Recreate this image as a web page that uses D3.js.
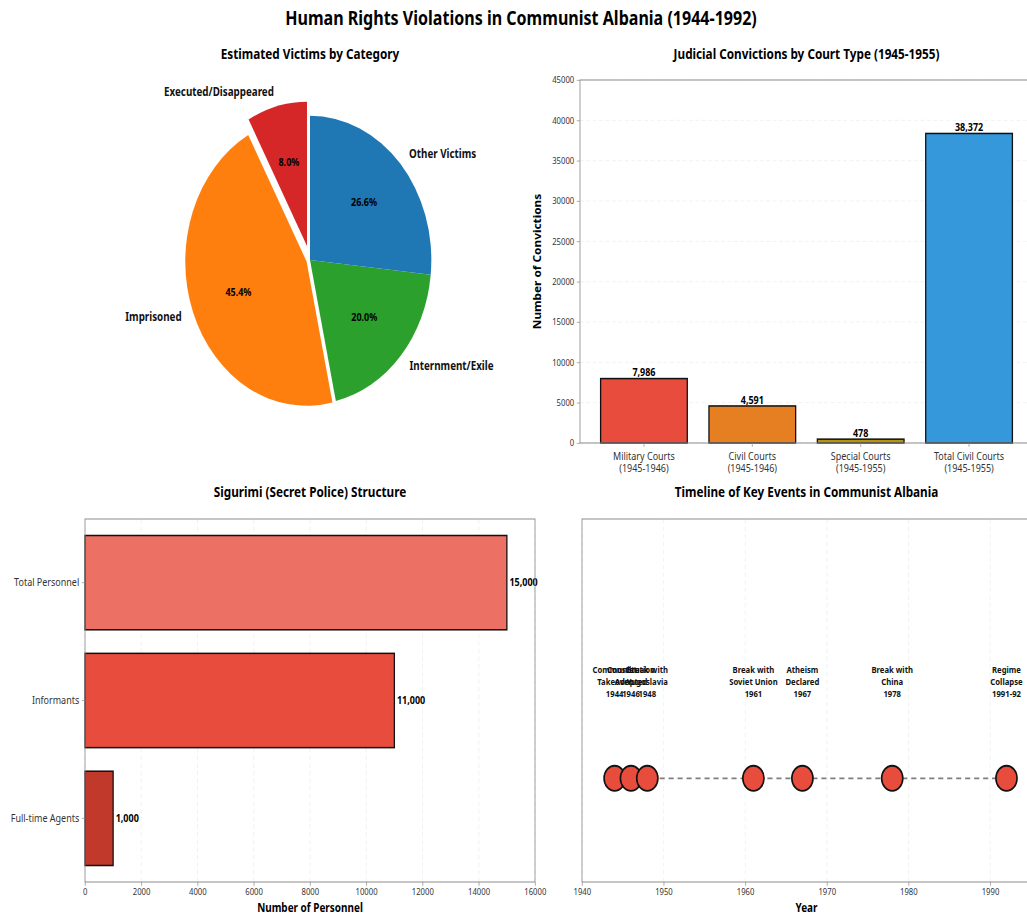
<!DOCTYPE html>
<html>
<head>
<meta charset="utf-8">
<script src="https://cdn.jsdelivr.net/npm/d3@7"></script>
<style>
  html, body { margin: 0; padding: 0; background: #ffffff; }
  svg { display: block; }
  text { font-family: "Noto Sans", "Open Sans", "DejaVu Sans", sans-serif; }
</style>
</head>
<body>
<div id="chart"></div>
<script>
// ---------------- DATA ----------------
const mainTitle = "Human Rights Violations in Communist Albania (1944-1992)";

const pieTitle = "Estimated Victims by Category";
const pieLabels = ["Executed/Disappeared", "Imprisoned", "Internment/Exile", "Other Victims"];
const pieValues = [6000, 34135, 15000, 20000];
const pieColors = ["#d62728", "#ff7f0e", "#2ca02c", "#1f77b4"];
const pieExplode = [0.1, 0.03, 0, 0];

const courtTitle = "Judicial Convictions by Court Type (1945-1955)";
const courtCategories = ["Military Courts\n(1945-1946)", "Civil Courts\n(1945-1946)", "Special Courts\n(1945-1955)", "Total Civil Courts\n(1945-1955)"];
const courtValues = [7986, 4591, 478, 38372];
const courtColors = ["#e74c3c", "#e67e22", "#b7950b", "#3498db"];
const courtTicks = [0, 5000, 10000, 15000, 20000, 25000, 30000, 35000, 40000, 45000];

const policeTitle = "Sigurimi (Secret Police) Structure";
const policeCategories = ["Total Personnel", "Informants", "Full-time Agents"];
const policeValues = [15000, 11000, 1000];
const policeColors = ["#ec7063", "#e74c3c", "#c0392b"];
const policeTicks = [0, 2000, 4000, 6000, 8000, 10000, 12000, 14000, 16000];

const timelineTitle = "Timeline of Key Events in Communist Albania";
const eventYears = [1944, 1946, 1948, 1961, 1967, 1978, 1992];
const eventNames = ["Communist\nTakeover", "Constitution\nAdopted", "Break with\nYugoslavia", "Break with\nSoviet Union", "Atheism\nDeclared", "Break with\nChina", "Regime\nCollapse"];
const eventYearLabels = ["1944", "1946", "1948", "1961", "1967", "1978", "1991-92"];
const timelineTicks = [1940, 1950, 1960, 1970, 1980, 1990];

// ---------------- LAYOUT (figure drawn in its own units, then stretched like the original image) ----------------
const PW = 1027, PH = 916;
const SX = 0.6419, SY = 0.7633;
const W = PW / SX, H = PH / SY;
const X = px => px / SX;   // page px -> figure units
const Y = py => py / SY;

const spineColor = "#8c8c8c";
const tickColor = "#333333";
const gridColor = "#ececec";
const titleSize = 18.3;
const smallTick = 12;
const catTick = 14;

const svg = d3.select("#chart").append("svg")
  .attr("width", PW).attr("height", PH)
  .attr("viewBox", `0 0 ${W} ${H}`)
  .attr("preserveAspectRatio", "none");

svg.append("rect").attr("width", W).attr("height", H).attr("fill", "#fff");

svg.append("text").attr("x", X(521)).attr("y", Y(25))
  .attr("text-anchor", "middle").attr("font-size", 25).attr("font-weight", "bold")
  .text(mainTitle);

function multiline(sel, str, lineH) {
  const lines = str.split("\n");
  lines.forEach((l, i) => sel.append("tspan").attr("x", sel.attr("x")).attr("dy", i === 0 ? 0 : lineH).text(l));
}

function frame(g, x0, x1, y0, y1) {
  g.append("rect").attr("x", x0).attr("y", y0).attr("width", x1 - x0).attr("height", y1 - y0)
    .attr("fill", "none").attr("stroke", spineColor).attr("stroke-width", 1.3);
}

// ---------------- PIE ----------------
{
  const cx = X(310), cy = Y(260), r = 189;
  const g = svg.append("g").attr("transform", `translate(${cx},${cy})`);
  svg.append("text").attr("x", cx).attr("y", Y(59)).attr("text-anchor", "middle")
    .attr("font-size", titleSize).attr("font-weight", "bold").text(pieTitle);
  const total = d3.sum(pieValues);
  const pie = d3.pie().sort(null).startAngle(0).endAngle(-2 * Math.PI);
  const arcs = pie(pieValues);
  const arc = d3.arc().innerRadius(0).outerRadius(r);
  arcs.forEach((a, i) => {
    const mid = (a.startAngle + a.endAngle) / 2;
    const ux = Math.sin(mid), uy = -Math.cos(mid);
    const ex = pieExplode[i] * r;
    g.append("path").attr("d", arc(a)).attr("fill", pieColors[i])
      .attr("transform", `translate(${ux * ex},${uy * ex})`);
    const lr = 1.1 * r + ex;
    g.append("text").attr("x", ux * lr).attr("y", uy * lr).attr("dy", "0.35em")
      .attr("text-anchor", ux >= 0 ? "start" : "end")
      .attr("font-size", 15.3).attr("font-weight", "bold").attr("fill", "#111")
      .text(pieLabels[i]);
    const pr = 0.6 * r + ex;
    g.append("text").attr("x", ux * pr).attr("y", uy * pr).attr("dy", "0.35em")
      .attr("text-anchor", "middle").attr("font-size", 14).attr("font-weight", "bold").attr("fill", "#000")
      .text((pieValues[i] / total * 100).toFixed(1) + "%");
  });
}

// ---------------- COURT BARS ----------------
{
  const x0 = X(580), x1 = X(1033), y0 = Y(80), y1 = Y(443);
  const g = svg.append("g");
  const xb = d3.scaleBand().domain(courtCategories).range([x0, x1]).paddingInner(0.2).paddingOuter(0.19);
  const y = d3.scaleLinear().domain([0, 45000]).range([y1, y0]);
  g.append("g").selectAll("line").data(courtTicks).join("line")
    .attr("x1", x0).attr("x2", x1).attr("y1", d => y(d)).attr("y2", d => y(d))
    .attr("stroke", gridColor).attr("stroke-dasharray", "6,4").attr("stroke-width", 1);
  g.append("g").selectAll("rect").data(courtValues).join("rect")
    .attr("x", (d, i) => xb(courtCategories[i])).attr("width", xb.bandwidth())
    .attr("y", d => y(d)).attr("height", d => y(0) - y(d))
    .attr("fill", (d, i) => courtColors[i]).attr("stroke", "#111").attr("stroke-width", 2);
  g.append("g").selectAll("text").data(courtValues).join("text")
    .attr("x", (d, i) => xb(courtCategories[i]) + xb.bandwidth() / 2).attr("y", d => y(d) - 3)
    .attr("text-anchor", "middle").attr("font-size", 14).attr("font-weight", "bold")
    .text(d => d3.format(",")(d));
  frame(g, x0, x1, y0, y1);
  const ya = g.append("g").attr("transform", `translate(${x0},0)`)
    .call(d3.axisLeft(y).tickValues(courtTicks).tickFormat(d3.format("d")).tickSize(5).tickPadding(4));
  ya.select(".domain").remove();
  ya.selectAll("line").attr("stroke", spineColor);
  ya.selectAll("text").attr("font-size", smallTick).attr("fill", tickColor).style("font-family", "'Noto Sans', sans-serif");
  const xa = g.append("g").attr("transform", `translate(0,${y1})`)
    .call(d3.axisBottom(xb).tickSize(5).tickPadding(4).tickFormat(""));
  xa.select(".domain").remove();
  xa.selectAll("line").attr("stroke", spineColor);
  courtCategories.forEach(c => {
    const t = g.append("text").attr("x", xb(c) + xb.bandwidth() / 2).attr("y", y1 + 22)
      .attr("text-anchor", "middle").attr("font-size", catTick).attr("fill", tickColor);
    multiline(t, c, 16.5);
  });
  g.append("text").attr("transform", `translate(${X(541)},${(y0 + y1) / 2}) rotate(-90)`)
    .attr("text-anchor", "middle").attr("font-size", 15.5).attr("font-weight", "bold").text("Number of Convictions");
  svg.append("text").attr("x", (x0 + x1) / 2).attr("y", Y(59)).attr("text-anchor", "middle")
    .attr("font-size", titleSize).attr("font-weight", "bold").text(courtTitle);
}

// ---------------- POLICE HBARS ----------------
{
  const x0 = X(85), x1 = X(535), y0 = Y(519), y1 = Y(882);
  const g = svg.append("g");
  const x = d3.scaleLinear().domain([0, 16000]).range([x0, x1]);
  const yb = d3.scaleBand().domain(policeCategories).range([y0, y1]).paddingInner(0.2).paddingOuter(0.14);
  g.append("g").selectAll("line").data(policeTicks).join("line")
    .attr("x1", d => x(d)).attr("x2", d => x(d)).attr("y1", y0).attr("y2", y1)
    .attr("stroke", gridColor).attr("stroke-dasharray", "6,4").attr("stroke-width", 1);
  g.append("g").selectAll("rect").data(policeValues).join("rect")
    .attr("x", x(0)).attr("width", d => x(d) - x(0))
    .attr("y", (d, i) => yb(policeCategories[i])).attr("height", yb.bandwidth())
    .attr("fill", (d, i) => policeColors[i]).attr("stroke", "#111").attr("stroke-width", 2);
  g.append("g").selectAll("text").data(policeValues).join("text")
    .attr("x", d => x(d) + 4).attr("y", (d, i) => yb(policeCategories[i]) + yb.bandwidth() / 2)
    .attr("dy", "0.35em").attr("font-size", 14).attr("font-weight", "bold")
    .text(d => d3.format(",")(d));
  frame(g, x0, x1, y0, y1);
  const xa = g.append("g").attr("transform", `translate(0,${y1})`)
    .call(d3.axisBottom(x).tickValues(policeTicks).tickFormat(d3.format("d")).tickSize(5).tickPadding(4));
  xa.select(".domain").remove();
  xa.selectAll("line").attr("stroke", spineColor);
  xa.selectAll("text").attr("font-size", smallTick).attr("fill", tickColor).style("font-family", "'Noto Sans', sans-serif");
  const ya = g.append("g").attr("transform", `translate(${x0},0)`)
    .call(d3.axisLeft(yb).tickSize(5).tickPadding(4));
  ya.select(".domain").remove();
  ya.selectAll("line").attr("stroke", spineColor);
  ya.selectAll("text").attr("font-size", catTick).attr("fill", tickColor).style("font-family", "'Noto Sans', sans-serif");
  g.append("text").attr("x", (x0 + x1) / 2).attr("y", Y(912)).attr("text-anchor", "middle")
    .attr("font-size", 15.5).attr("font-weight", "bold").text("Number of Personnel");
  svg.append("text").attr("x", (x0 + x1) / 2).attr("y", Y(497)).attr("text-anchor", "middle")
    .attr("font-size", titleSize).attr("font-weight", "bold").text(policeTitle);
}

// ---------------- TIMELINE ----------------
{
  const x0 = X(582), x1 = X(1031), y0 = Y(519), y1 = Y(882);
  const g = svg.append("g");
  const x = d3.scaleLinear().domain([1940, 1995]).range([x0, x1]);
  const y = d3.scaleLinear().domain([-1, 2.5]).range([y1, y0]);
  g.append("g").selectAll("line").data(timelineTicks).join("line")
    .attr("x1", d => x(d)).attr("x2", d => x(d)).attr("y1", y0).attr("y2", y1)
    .attr("stroke", gridColor).attr("stroke-dasharray", "6,4").attr("stroke-width", 1);
  const line = d3.line().x(d => x(d)).y(() => y(0));
  g.append("path").attr("d", line(eventYears)).attr("fill", "none")
    .attr("stroke", "#7f7f7f").attr("stroke-width", 2.2).attr("stroke-dasharray", "8,6");
  g.append("g").selectAll("circle").data(eventYears).join("circle")
    .attr("cx", d => x(d)).attr("cy", y(0)).attr("r", 16.5)
    .attr("fill", "#e74c3c").attr("stroke", "#111").attr("stroke-width", 2.5);
  eventYears.forEach((yr, i) => {
    const t = g.append("text").attr("x", x(yr)).attr("y", Y(673))
      .attr("text-anchor", "middle").attr("dy", "0.35em").attr("font-size", 12).attr("font-weight", "bold").attr("fill", "#111");
    multiline(t, eventNames[i] + "\n" + eventYearLabels[i], 16);
  });
  frame(g, x0, x1, y0, y1);
  const xa = g.append("g").attr("transform", `translate(0,${y1})`)
    .call(d3.axisBottom(x).tickValues(timelineTicks).tickFormat(d3.format("d")).tickSize(5).tickPadding(4));
  xa.select(".domain").remove();
  xa.selectAll("line").attr("stroke", spineColor);
  xa.selectAll("text").attr("font-size", smallTick).attr("fill", tickColor).style("font-family", "'Noto Sans', sans-serif");
  g.append("text").attr("x", (x0 + x1) / 2).attr("y", Y(912)).attr("text-anchor", "middle")
    .attr("font-size", 15.5).attr("font-weight", "bold").text("Year");
  svg.append("text").attr("x", (x0 + x1) / 2).attr("y", Y(497)).attr("text-anchor", "middle")
    .attr("font-size", titleSize).attr("font-weight", "bold").text(timelineTitle);
}
</script>
</body>
</html>
